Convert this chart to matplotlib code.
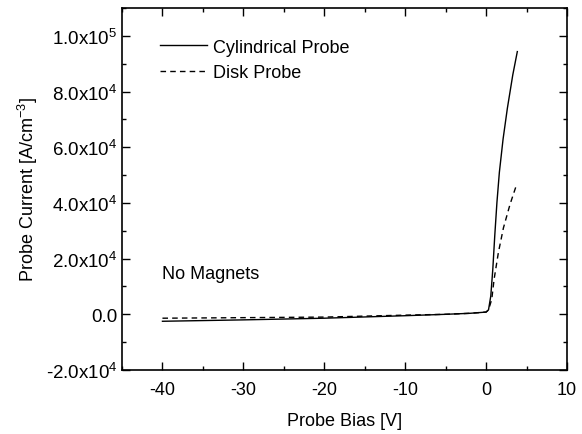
import numpy as np
import matplotlib
matplotlib.use("Agg")
import matplotlib.pyplot as plt
from matplotlib.ticker import MultipleLocator

plt.rcParams['font.family'] = ['Liberation Sans', 'DejaVu Sans']
plt.rcParams['mathtext.fontset'] = 'custom'
plt.rcParams['mathtext.rm'] = 'Liberation Sans'
plt.rcParams['mathtext.it'] = 'Liberation Sans:italic'

# Data
cyl_v = [-40, -30, -20, -10, -5, -2, 0.0, 0.3, 0.58, 0.83, 1.07, 1.34, 1.64, 2.10, 2.63, 3.30, 3.86]
cyl_i = [-2500, -2000, -1400, -500, 0, 360, 800, 1600, 6580, 16190, 28160, 40180, 50970,
         62950, 74000, 86000, 94350]
disk_v = [-40, -30, -20, -10, -5, -2, 0.0, 0.3, 0.70, 0.99, 1.52, 2.14, 2.96, 3.79]
disk_i = [-1400, -1200, -1000, -300, 0, 360, 800, 1600, 5400, 12590, 22190, 31000, 39500, 46760]

yticks = [-2e4, 0, 2e4, 4e4, 6e4, 8e4, 1e5]
ytick_labels = [r"-2.0x10$^{\mathregular{4}}$", "0.0", r"2.0x10$^{\mathregular{4}}$",
                r"4.0x10$^{\mathregular{4}}$", r"6.0x10$^{\mathregular{4}}$",
                r"8.0x10$^{\mathregular{4}}$", r"1.0x10$^{\mathregular{5}}$"]
xticks = [-40, -30, -20, -10, 0, 10]

fig = plt.figure(figsize=(5.82, 4.35), dpi=100)
ax = fig.add_axes([122/582, 1 - 371/435, (567-122)/582, (371-9)/435])

ax.plot(cyl_v, cyl_i, color='black', lw=1.0, label='Cylindrical Probe')
ax.plot(disk_v, disk_i, color='black', lw=1.0, ls=(0, (4, 3)), label='Disk Probe')

ax.set_xlim(-45, 10)
ax.set_ylim(-2e4, 1.1e5)
ax.set_xticks(xticks)
ax.set_xticklabels([str(t) for t in xticks])
ax.set_yticks(yticks)
ax.set_yticklabels(ytick_labels)
ax.xaxis.set_minor_locator(MultipleLocator(5))
ax.yaxis.set_minor_locator(MultipleLocator(1e4))
ax.tick_params(which='both', direction='in', top=True, right=True, labelsize=13, width=1)
ax.tick_params(axis='y', labelsize=13.5)
ax.tick_params(which='major', length=6)
ax.tick_params(which='minor', length=3)
ax.tick_params(axis='x', pad=8)
for s in ax.spines.values():
    s.set_linewidth(1.2)

ax.set_xlabel('Probe Bias [V]', fontsize=13, labelpad=10)
ax.set_ylabel(r'Probe Current [A/cm$^{\mathregular{-3}}$]', fontsize=13, labelpad=4)

ax.text(-40, 1.47e4, 'No Magnets', fontsize=13, va='center', ha='left')

ax.legend(loc='upper left', bbox_to_anchor=(0.07, 0.935), frameon=False, fontsize=13,
          handlelength=2.6, handletextpad=0.3, labelspacing=0.45, borderaxespad=0)

fig.savefig('out.png', dpi=100)
